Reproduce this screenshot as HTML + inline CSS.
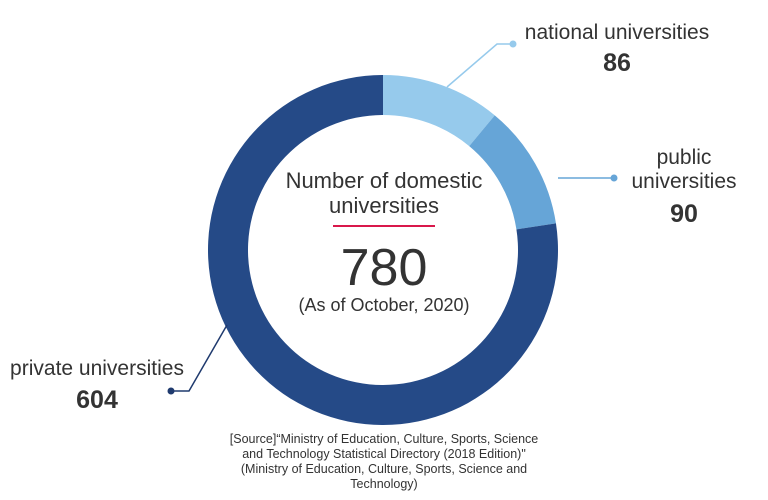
<!DOCTYPE html>
<html><head><meta charset="utf-8"><style>
body{margin:0;width:768px;height:500px;background:#fff;overflow:hidden;font-family:"Liberation Sans",sans-serif}
svg{display:block}
</style></head><body>
<svg width="768" height="500">
<g id="slices"></g>
<g fill="#333" text-anchor="middle">
<text x="384" y="188" font-size="22">Number of domestic</text>
<text x="384" y="213" font-size="22">universities</text>
<rect x="333" y="225" width="102" height="2" fill="#d9184b"/>
<text x="384" y="285" font-size="52">780</text>
<text x="384" y="311" font-size="18">(As of October, 2020)</text>
</g>
<g id="labels"></g>
<g fill="#333" font-size="12.5" text-anchor="middle">
<text x="384" y="443">[Source]“Ministry of Education, Culture, Sports, Science</text>
<text x="384" y="458">and Technology Statistical Directory (2018 Edition)"</text>
<text x="384" y="473">(Ministry of Education, Culture, Sports, Science and</text>
<text x="384" y="488">Technology)</text>
</g>
</svg>
<script>
const categories=["national universities","public universities","private universities"];
const values=[86,90,604];
const colors=["#96caec","#66a5d7","#254a87"];
const cx=383,cy=250,R=175,r=135;
const total=values.reduce((a,b)=>a+b,0);
const ns="http://www.w3.org/2000/svg";
const g=document.getElementById("slices");
let a0=0;
function pt(rad,ang){return [cx+rad*Math.sin(ang),cy-rad*Math.cos(ang)];}
values.forEach((v,i)=>{
 const a1=a0+v/total*2*Math.PI;
 const [x1,y1]=pt(R,a0),[x2,y2]=pt(R,a1),[x3,y3]=pt(r,a1),[x4,y4]=pt(r,a0);
 const lg=(a1-a0)>Math.PI?1:0;
 const p=document.createElementNS(ns,"path");
 p.setAttribute("d",`M${x1},${y1}A${R},${R} 0 ${lg} 1 ${x2},${y2}L${x3},${y3}A${r},${r} 0 ${lg} 0 ${x4},${y4}Z`);
 p.setAttribute("fill",colors[i]);
 
 
 g.appendChild(p);
 a0=a1;
});
const L=document.getElementById("labels");
L.innerHTML=`
<g>
<polyline points="447,87 497,44 513,44" fill="none" stroke="#96caec" stroke-width="1.5"/>
<circle cx="513" cy="44" r="3.5" fill="#96caec"/>
<text x="617" y="39" font-size="21" fill="#333" text-anchor="middle">${categories[0]}</text>
<text x="617" y="71" font-size="25" font-weight="bold" fill="#333" text-anchor="middle">${values[0]}</text>
</g>
<g>
<polyline points="558,178 614,178" fill="none" stroke="#66a5d7" stroke-width="1.5"/>
<circle cx="614" cy="178" r="3.5" fill="#66a5d7"/>
<text x="684" y="164" font-size="21" fill="#333" text-anchor="middle">public</text>
<text x="684" y="188" font-size="21" fill="#333" text-anchor="middle">universities</text>
<text x="684" y="222" font-size="25" font-weight="bold" fill="#333" text-anchor="middle">${values[1]}</text>
</g>
<g>
<polyline points="227,325 189,391 171,391" fill="none" stroke="#1f3a6e" stroke-width="1.5"/>
<circle cx="171" cy="391" r="3.5" fill="#1f3a6e"/>
<text x="97" y="375" font-size="21" fill="#333" text-anchor="middle">${categories[2]}</text>
<text x="97" y="408" font-size="25" font-weight="bold" fill="#333" text-anchor="middle">${values[2]}</text>
</g>`;
</script>
</body></html>
